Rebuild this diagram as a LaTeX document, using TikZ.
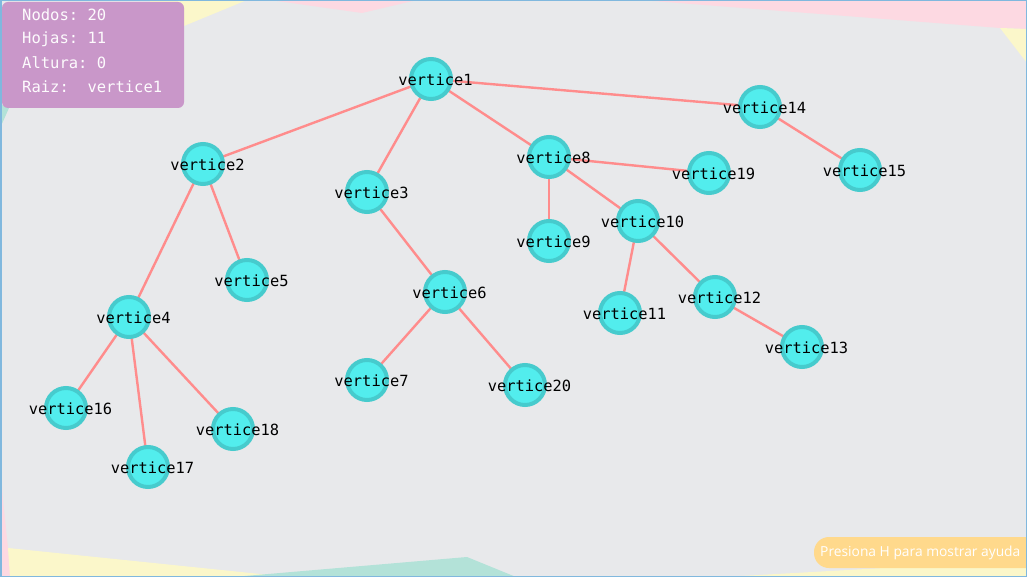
\documentclass[tikz,border=0pt]{standalone}
\usepackage{fontspec}
\setmonofont{DejaVu Sans Mono}
\newfontfamily\helpfont{Open Sans}
\definecolor{bgc}{HTML}{E8E9EB}
\definecolor{pinkc}{HTML}{FDD9E2}
\definecolor{yelc}{HTML}{FBF7CA}
\definecolor{tealc}{HTML}{B3E2D8}
\definecolor{framec}{HTML}{80B8DE}
\definecolor{edgec}{HTML}{FF8C8C}
\definecolor{ringc}{HTML}{46CBCD}
\definecolor{fillc}{HTML}{52EDED}
\definecolor{infoc}{HTML}{C997C9}
\definecolor{helpc}{HTML}{FFD98C}
\pgfdeclarelayer{bglayer}
\pgfdeclarelayer{edgelayer}
\pgfsetlayers{bglayer,edgelayer,main}
\tikzset{
  vert/.style={circle,draw=ringc,fill=fillc,line width=4pt,minimum size=40pt,inner sep=0pt},
  vlab/.style={font=\ttfamily\fontsize{15.4}{15.4}\selectfont,text=black,inner sep=0pt,xshift=4.5pt,yshift=-1pt},
  link/.style={draw=edgec,line width=2.4pt},
  infotxt/.style={font=\ttfamily\fontsize{15.5}{15.5}\selectfont,text=white!96!infoc,anchor=west,inner sep=0pt},
}
\newcommand\mkvert[3]{\node[vert,label={[vlab]center:vertice#1}] (v#1) at (#2,#3) {};}
\begin{document}
\begin{tikzpicture}[x=1pt,y=-1pt]
\useasboundingbox (0,0) rectangle (1027,577);
\begin{pgfonlayer}{bglayer}
\fill[bgc] (0,0) rectangle (1027,577);
\fill[yelc] (150,0) -- (247,0) -- (150,40) -- cycle;
\fill[pinkc] (270,0) -- (362,13) -- (417,0) -- cycle;
\fill[pinkc] (640,0) -- (1000,28) -- (1027,29) -- (1027,0) -- cycle;
\fill[yelc] (1000,28) -- (1027,29) -- (1027,63) -- cycle;
\fill[tealc] (0,104) -- (9,108) -- (1,126) -- (0,126) -- cycle;
\fill[pinkc] (0,460) -- (3,500) -- (11,577) -- (0,577) -- cycle;
\fill[yelc] (8,548) -- (270,575) -- (270,577) -- (10,577) -- cycle;
\fill[yelc] (723,577) -- (1027,560) -- (1027,577) -- cycle;
\fill[tealc] (233,577) -- (467,557) -- (516,577) -- cycle;
\end{pgfonlayer}
% nodes
\mkvert{1}{431}{79}
\mkvert{2}{203}{164}
\mkvert{3}{367}{192}
\mkvert{4}{129}{317}
\mkvert{5}{247}{280}
\mkvert{6}{445}{292}
\mkvert{7}{367}{380}
\mkvert{8}{549}{157}
\mkvert{9}{549}{241}
\mkvert{10}{638}{221}
\mkvert{11}{620}{313}
\mkvert{12}{715}{297}
\mkvert{13}{802}{347}
\mkvert{14}{760}{107}
\mkvert{15}{860}{170}
\mkvert{16}{66}{408}
\mkvert{17}{148}{467}
\mkvert{18}{233}{429}
\mkvert{19}{709}{173}
\mkvert{20}{525}{385}
% edges behind nodes
\begin{pgfonlayer}{edgelayer}
\foreach \a/\b in {1/2,1/3,1/8,1/14,2/4,2/5,3/6,4/16,4/17,4/18,6/7,6/20,8/9,8/10,8/19,10/11,10/12,12/13,14/15}
  \draw[link] (v\a.center) -- (v\b.center);
\end{pgfonlayer}
% info box
\fill[infoc,rounded corners=6pt] (2,2) rectangle (184,108);
\node[infotxt] (i1) at (22,15) {Nodos: 20};
\node[infotxt] (i2) at (22,39) {Hojas: 11};
\node[infotxt] (i3) at (22,63) {Altura: 0};
\node[infotxt] (i4) at (22,87) {Raiz:\ \ vertice1};
% help box
\fill[helpc,rounded corners=15pt] (814,537) rectangle (1050,568);
\node[font=\helpfont\fontsize{13.8}{13.8}\selectfont,text=white,anchor=west,inner sep=0pt] (help) at (820,553) {Presiona H para mostrar ayuda};
\draw[framec,line width=1.5pt] (0.75,0.75) rectangle (1026.25,576.25);
\end{tikzpicture}
\end{document}
